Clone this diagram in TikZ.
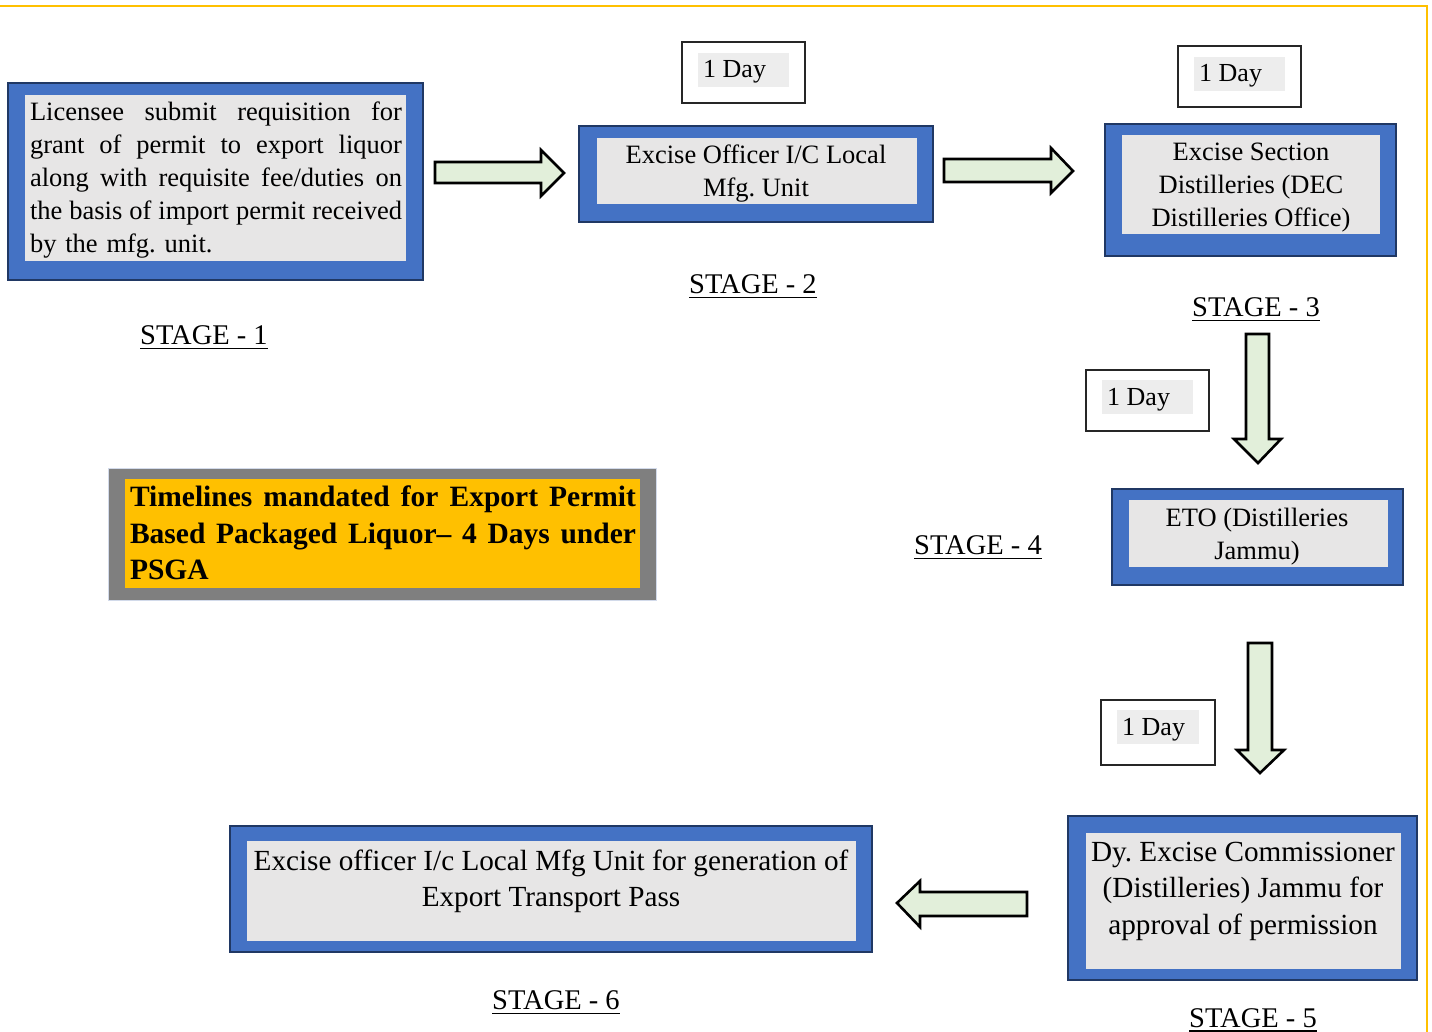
\documentclass[tikz,border=0pt]{standalone}
\usepackage{fontspec}
\setmainfont{Liberation Serif}
\frenchspacing
\definecolor{bluefill}{HTML}{4472C4}
\definecolor{blueline}{HTML}{203864}
\definecolor{innergray}{HTML}{E7E6E6}
\definecolor{daygray}{HTML}{EDEDED}
\definecolor{arrowgreen}{HTML}{E2EFDA}
\definecolor{gold}{HTML}{FFC000}
\definecolor{tgray}{HTML}{7F7F7F}
\definecolor{tline}{HTML}{D2DAEA}
\newcommand\rectnode[6]{%
  \node[#6, rectangle, inner sep=0pt, outer sep=0pt, minimum width={#4-#2}, minimum height={#5-#3}, anchor=center] (#1) at ({(#2+#4)/2},{(#3+#5)/2}) {};}
\newcommand\jline[2]{\makebox[#1][s]{\spaceskip=0pt\xspaceskip=0pt\relax #2}}
\tikzset{
  outerbox/.style={draw=blueline, line width=2pt, fill=bluefill},
  innerbox/.style={fill=innergray},
  daybox/.style={draw=black!85, line width=1.3pt, fill=white},
  dayhl/.style={fill=daygray},
  blockarrow/.style={draw=black, line width=2.6pt, fill=arrowgreen, line join=miter},
  bodytext/.style={font=\fontsize{26.5}{33}\selectfont\frenchspacing, inner sep=0pt, text=black},
  bigtext/.style={font=\fontsize{29.2}{36.5}\selectfont\frenchspacing, inner sep=0pt, text=black},
  daytext/.style={font=\fontsize{26}{30}\selectfont, inner sep=0pt, anchor=base west},
  stagelbl/.style={font=\fontsize{28.5}{32}\selectfont, inner sep=0pt, anchor=base},
  ul/.style={line width=1.8pt, black},
  goldline/.style={draw=gold, line width=2.6pt}
}
\begin{document}
\begin{tikzpicture}[x=1pt,y=-1pt]
\useasboundingbox[fill=white] (0,0) rectangle (1432,1032);
% page border
\draw[goldline] (0,6) -- (1427,6) -- (1427,1032);

% ---- Stage 1
\rectnode{b1o}{8}{83}{423}{280}{outerbox}
\rectnode{b1i}{25}{95}{406}{261}{innerbox}
\node[bodytext, align=left, text width=372pt] (t1) at (216,180.5) {%
\jline{372pt}{Licensee submit requisition for}\\
\jline{372pt}{grant of permit to export liquor}\\
\jline{372pt}{along with requisite fee/duties on}\\
\jline{372pt}{the basis of import permit received}\\
by the mfg. unit.};
\node[stagelbl] (s1) at (204,344.5) {STAGE - 1};
\draw[ul] ([yshift=-4pt]s1.base west) -- ([yshift=-4pt]s1.base east);

% ---- Stage 2
\rectnode{b2o}{579}{126}{933}{222}{outerbox}
\rectnode{b2i}{597}{138}{917}{204}{innerbox}
\node[bodytext, align=center] (t2) at (756,174) {Excise Officer I/C Local\\Mfg. Unit};
\rectnode{d2o}{682}{42}{805}{103}{daybox}
\rectnode{d2i}{698}{53}{789}{87}{dayhl}
\node[daytext] (d2t) at (703,78) {1 Day};
\node[stagelbl] (s2) at (753,293.5) {STAGE - 2};
\draw[ul] ([yshift=-4pt]s2.base west) -- ([yshift=-4pt]s2.base east);

% ---- Stage 3
\rectnode{b3o}{1105}{124}{1396}{256}{outerbox}
\rectnode{b3i}{1122}{135}{1380}{234}{innerbox}
\node[bodytext, align=center] (t3) at (1251,188) {Excise Section\\Distilleries (DEC\\Distilleries Office)};
\rectnode{d3o}{1178}{46}{1301}{107}{daybox}
\rectnode{d3i}{1194}{57}{1285}{91}{dayhl}
\node[daytext] (d3t) at (1199,82) {1 Day};
\node[stagelbl] (s3) at (1256,316.5) {STAGE - 3};
\draw[ul] ([yshift=-4pt]s3.base west) -- ([yshift=-4pt]s3.base east);

% ---- Stage 4
\rectnode{b4o}{1112}{489}{1403}{585}{outerbox}
\rectnode{b4i}{1129}{500}{1388}{567}{innerbox}
\node[bodytext, align=center] (t4) at (1257,536.5) {ETO (Distilleries\\Jammu)};
\rectnode{d4o}{1086}{370}{1209}{431}{daybox}
\rectnode{d4i}{1102}{380}{1193}{414}{dayhl}
\node[daytext] (d4t) at (1107,405) {1 Day};
\node[stagelbl] (s4) at (978,554.5) {STAGE - 4};
\draw[ul] ([yshift=-4pt]s4.base west) -- ([yshift=-4pt]s4.base east);

% ---- Stage 5
\rectnode{b5o}{1068}{816}{1417}{980}{outerbox}
\rectnode{b5i}{1086}{833}{1401}{969}{innerbox}
\node[bigtext, align=center] (t5) at (1243,891) {Dy. Excise Commissioner\\(Distilleries) Jammu for\\approval of permission};
\rectnode{d5o}{1101}{700}{1215}{765}{daybox}
\rectnode{d5i}{1117}{710}{1199}{744}{dayhl}
\node[daytext] (d5t) at (1122,735) {1 Day};
\node[stagelbl] (s5) at (1253,1027.5) {STAGE - 5};
\draw[ul] ([yshift=-3.5pt]s5.base west) -- ([yshift=-3.5pt]s5.base east);

% ---- Stage 6
\rectnode{b6o}{230}{826}{872}{952}{outerbox}
\rectnode{b6i}{247}{841}{856}{941}{innerbox}
\node[bigtext, align=center] (t6) at (551,881.5) {Excise officer I/c Local Mfg Unit for generation of\\Export Transport Pass};
\node[stagelbl] (s6) at (556,1009.5) {STAGE - 6};
\draw[ul] ([yshift=-4pt]s6.base west) -- ([yshift=-4pt]s6.base east);

% ---- Timeline box
\rectnode{tlo}{108}{468}{656}{600}{draw=tline, line width=1pt, fill=tgray}
\rectnode{tli}{125}{479}{640}{588}{fill=gold}
\node[font=\fontsize{29.5}{36.5}\selectfont\bfseries, inner sep=0pt, align=left, text width=506pt] (tlt) at (383,533) {%
\jline{506pt}{Timelines mandated for Export Permit}\\
\jline{506pt}{Based Packaged Liquor– 4 Days under}\\
PSGA};

% ---- Block arrows
\draw[blockarrow] (435,162) -- (541,162) -- (541,150) -- (564,173) -- (541,196) -- (541,183) -- (435,183) -- cycle;
\draw[blockarrow] (944,159) -- (1051,159) -- (1051,148) -- (1073,171) -- (1051,193) -- (1051,182) -- (944,182) -- cycle;
\draw[blockarrow] (1246,334) -- (1269,334) -- (1269,439) -- (1281,439) -- (1258,463) -- (1234,439) -- (1246,439) -- cycle;
\draw[blockarrow] (1248,643) -- (1272,643) -- (1272,750) -- (1284,750) -- (1260,773) -- (1237,750) -- (1248,750) -- cycle;
\draw[blockarrow] (1027,892) -- (920,892) -- (920,881) -- (897,903) -- (920,927) -- (920,916) -- (1027,916) -- cycle;
\end{tikzpicture}
\end{document}
